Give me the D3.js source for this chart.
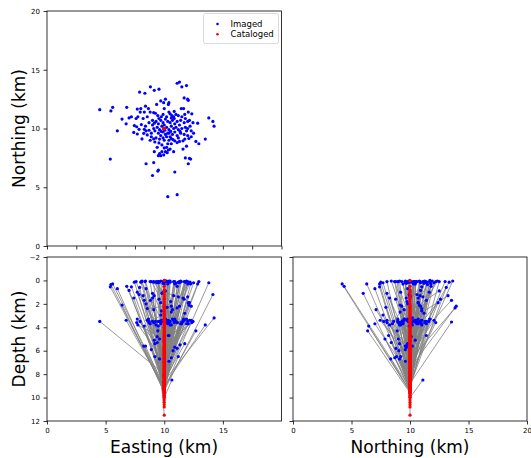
<!DOCTYPE html>
<html>
<head>
<meta charset="utf-8">
<script src="https://cdn.jsdelivr.net/npm/d3@7"></script>
<style>
  body { margin: 0; background: #fff; }
  svg { font-family: "DejaVu Sans", sans-serif; }
</style>
</head>
<body>
<div id="chart"></div>
<script>
// imaged locations (km)
var easting = [
  11.3, 11.1, 11.9, 11.5, 8.82, 7.9, 8.35, 9.15, 9.55, 11.7,
  12.0, 12.05, 10.1, 10.4, 9.95, 10.35, 9.35, 9.7, 4.5, 5.45,
  5.6, 6.8, 8.0, 8.4, 8.65, 7.7, 9.1, 7.95, 8.3, 8.8,
  10.0, 10.85, 11.65, 11.45, 12.05, 12.35, 11.75, 6.4, 7.0, 7.2,
  6.75, 7.6, 7.75, 8.2, 8.55, 9.25, 9.45, 9.75, 10.5, 10.8,
  11.2, 11.5, 11.8, 12.15, 13.8, 14.15, 14.25, 12.85, 12.45, 6.0,
  7.45, 7.65, 7.85, 7.4, 7.7, 8.05, 8.3, 8.45, 8.7, 8.1,
  8.25, 8.55, 8.8, 9.1, 9.2, 9.55, 13.5, 12.95, 12.7, 12.1,
  11.75, 11.6, 11.6, 11.9, 11.3, 11.1, 10.9, 10.6, 10.4, 10.2,
  10.35, 10.1, 9.8, 9.6, 9.95, 10.25, 10.5, 10.8, 9.15, 9.5,
  9.7, 5.4, 8.45, 9.1, 11.8, 12.15, 12.25, 12.05, 9.5, 9.45,
  10.9, 9.0, 10.3, 11.1,
  9.3, 9.5, 9.7, 9.9, 10.1, 10.3, 10.5, 10.7, 10.9, 11.1,
  11.3, 9.4, 9.6, 9.8, 10.0, 10.2, 10.4, 10.6, 10.8, 11.0,
  11.2, 11.5, 11.8, 12.0, 12.3, 12.5, 9.2, 9.5, 9.7, 9.9,
  10.1, 10.3, 10.5, 10.7, 10.9, 11.1, 11.4, 11.7, 12.0, 12.3,
  9.0, 8.9, 9.1, 9.3, 9.6, 9.9, 10.2, 10.4, 10.0, 10.6,
  10.3, 9.8, 9.4, 10.0, 10.6, 10.2, 9.9, 10.4, 11.0, 11.4,
  11.7, 12.0, 9.0, 8.7, 8.4, 8.9, 11.9, 12.2, 10.75, 11.2,
  9.55, 10.05, 10.65, 9.75, 10.55, 11.35, 10.85, 9.15
];
var northing = [
  13.95, 13.85, 13.65, 13.55, 13.55, 13.1, 13.0, 13.25, 13.35, 12.6,
  12.5, 12.4, 12.5, 12.2, 12.2, 12.05, 12.05, 12.35, 11.6, 11.5,
  11.8, 11.8, 11.7, 11.9, 11.7, 11.65, 11.35, 11.4, 11.4, 11.4,
  11.7, 11.45, 11.7, 11.7, 11.4, 11.25, 11.2, 10.8, 10.9, 11.0,
  10.4, 10.85, 11.0, 10.85, 11.0, 11.3, 11.1, 11.0, 11.25, 11.0,
  11.1, 11.0, 10.85, 10.7, 10.9, 10.6, 10.2, 10.45, 10.5, 9.8,
  10.25, 10.15, 9.93, 9.67, 9.53, 10.33, 9.93, 9.8, 9.85, 9.11,
  9.59, 9.45, 9.0, 9.11, 8.85, 8.77, 9.1, 8.7, 8.9, 9.15,
  9.1, 8.95, 8.25, 8.5, 8.9, 8.8, 8.95, 9.15, 9.0, 8.4,
  8.17, 8.03, 8.03, 7.86, 7.75, 7.94, 8.25, 8.03, 8.03, 7.69,
  7.69, 7.4, 7.0, 7.1, 7.5, 7.45, 7.4, 7.0, 6.47, 6.38,
  6.3, 6.0, 4.2, 4.37,
  10.6, 10.4, 10.7, 10.5, 10.8, 10.6, 10.5, 10.7, 10.4, 10.6,
  10.3, 10.1, 9.9, 10.2, 10.3, 10.1, 9.9, 10.2, 10.0, 10.1,
  9.9, 10.0, 10.1, 10.0, 9.8, 9.6, 9.8, 9.6, 9.4, 9.7,
  9.5, 9.6, 9.3, 9.5, 9.7, 9.4, 9.6, 9.5, 9.4, 9.3,
  10.3, 9.6, 10.0, 9.2, 9.1, 9.2, 9.3, 9.6, 9.0, 8.7,
  8.7, 8.6, 8.4, 8.35, 10.9, 11.0, 11.2, 11.4, 11.2, 10.7,
  10.5, 10.6, 10.7, 10.5, 10.2, 9.3, 9.8, 10.2, 9.05, 9.2,
  10.85, 9.85, 11.1, 9.75, 9.75, 9.75, 10.85, 10.45
];
var depth = [
  2.2, 2.35, 0.05, 3.55, 1.7, 0.6, 0.1, 1.3, 0.15, 1.6,
  0.1, 1.9, 0.9, 3.6, 0.1, 3.4, 0.2, 0.05, 3.5, 0.35,
  0.3, 0.5, 0.15, 0.05, 3.3, 1.0, 0.1, 3.5, 1.7, 3.7,
  0.0, 0.15, 3.3, 0.1, 0.2, 3.6, 2.8, 2.1, 0.85, 0.55,
  3.4, 0.1, 3.8, 1.3, 2.4, 3.5, 0.1, 2.6, 0.05, 3.4,
  1.4, 3.7, 0.1, 1.9, 0.2, 1.2, 3.2, 0.3, 3.5, 0.7,
  0.15, 3.6, 1.2, 1.5, 3.3, 0.1, 3.9, 2.0, 3.5, 0.05,
  5.6, 3.4, 0.1, 3.6, 6.5, 1.6, 3.8, 0.1, 4.3, 2.1,
  5.4, 3.5, 1.5, 3.7, 0.1, 5.8, 3.3, 2.7, 3.6, 0.05,
  4.7, 3.4, 1.1, 5.0, 3.5, 2.3, 3.8, 0.1, 3.6, 0.2,
  2.95, 0.55, 0.7, 2.5, 0.15, 3.4, 0.3, 3.7, 3.9, 4.3,
  0.3, 1.1, 0.3, 0.5,
  0.1, 3.5, 1.9, 3.4, 0.05, 3.7, 0.15, 3.3, 0.1, 3.6,
  0.2, 4.8, 0.1, 3.5, 0.3, 3.4, 0.05, 3.8, 1.3, 3.5,
  0.15, 3.6, 0.1, 1.4, 3.4, 0.2, 5.4, 0.1, 3.7, 0.25,
  3.3, 0.1, 3.5, 2.5, 5.7, 3.6, 0.05, 3.4, 0.3, 2.2,
  3.5, 5.9, 0.15, 3.8, 6.7, 1.0, 3.6, 6.9, 5.0, 6.6,
  0.1, 3.5, 5.3, 6.7, 2.2, 3.4, 0.1, 4.7, 0.25, 3.7,
  0.1, 3.5, 1.5, 3.6, 5.6, 0.1, 3.3, 0.15, 6.0, 6.5,
  3.5, 0.1, 8.5, 3.4, 1.8, 5.5, 3.6, 5.1
];
// cataloged depths (km), cataloged epicentre is the same for all events
var catDepth = [
  7.5, 6.8, 8.2, 8.8, 5.5, 9.0, 7.2, 3.4, 6.1, 4.8,
  9.2, 7.8, 2.6, 8.1, 5.2, 6.5, 8.6, 4.0, 8.0, 9.4,
  9.0, 8.4, 7.0, 5.8, 9.1, 8.3, 1.5, 7.6, 6.2, 4.4,
  3.0, 7.4, 5.9, 8.9, 6.6, 7.7, 9.3, 9.5, 8.7, 7.9,
  9.2, 6.9, 5.0, 8.5, 2.2, 6.0, 7.3, 9.0, 4.6, 8.0,
  1.0, 6.7, 8.4, 7.1, 8.8, 9.4, 8.6, 7.5, 5.6, 9.6,
  8.1, 7.0, 4.9, 9.1, 6.3, 3.8, 8.7, 5.3, 2.9, 7.8,
  9.3, 6.4, 8.2, 4.1, 8.9, 5.7, 9.0, 8.0, 9.2, 6.8,
  8.5, 3.6, 7.2, 5.1, 9.1, 8.3, 6.1, 2.4, 7.6, 4.7,
  8.8, 6.9, 5.4, 9.0, 3.3, 7.7, 6.2, 8.6, 5.8, 7.9,
  8.4, 9.2, 8.9, 7.3, 8.1, 6.6, 9.0, 8.2, 9.4, 9.6,
  8.7, 9.3, 9.5, 9.2,
  1.2, 4.3, 6.4, 0.5, 5.0, 7.0, 10.0, 2.0, 3.9, 5.5,
  7.4, 8.0, 0.8, 3.1, 10.4, 4.5, 6.0, 1.8, 2.7, 6.3,
  7.1, 3.5, 5.2, 8.5, 6.7, 7.6, 10.6, 2.3, 4.8, 0.0,
  5.9, 10.8, 1.4, 4.2, 9.0, 2.8, 6.5, 7.3, 3.7, 8.3,
  5.3, 9.2, 11.5, 6.8, 9.6, 3.2, 5.7, 9.8, 8.7, 9.4,
  4.4, 1.6, 9.1, 9.5, 7.9, 2.5, 6.6, 8.9, 5.1, 0.9,
  7.7, 4.0, 8.2, 6.2, 9.3, 2.1, 8.0, 5.6, 9.7, 9.4,
  3.4, 10.2, 10.0, 7.0, 4.9, 8.6, 6.0, 9.9
];
var catEasting = 10, catNorthing = 10;

var mapTicks = [0, 5, 10, 15, 20];
var mapMinorTicks = [0, 2.5, 5, 7.5, 10, 12.5, 15, 17.5, 20];
var depthTicks = [-2, 0, 2, 4, 6, 8, 10, 12];
var leftXTicks = [0, 5, 10, 15];
var legendLabels = ['Imaged', 'Cataloged'];
var legendColors = ['blue', 'red'];

var svg = d3.select('#chart')
    .append('svg')
    .attr('width', 531)
    .attr('height', 458);

// scales
var xE = d3.scaleLinear().domain([0, 20]).range([47, 281.5]);
var yN = d3.scaleLinear().domain([0, 20]).range([246, 11]);
var xN = d3.scaleLinear().domain([0, 20]).range([293, 527]);
var yD = d3.scaleLinear().domain([-2, 12]).range([257, 421]);

var events = easting.map(function(e, i) {
    return { e: e, n: northing[i], d: depth[i], cd: catDepth[i] };
});

function styleAxis(g) {
    g.select('.domain').remove();
    g.selectAll('line').attr('stroke', '#000').attr('stroke-width', 0.8);
    g.attr('font-size', 7).attr('font-family', '"DejaVu Sans", sans-serif');
    g.selectAll('text').attr('fill', '#000');
}

function frame(x, y) {
    svg.append('rect')
        .attr('x', x.range()[0])
        .attr('y', Math.min(y.range()[0], y.range()[1]))
        .attr('width', x.range()[1] - x.range()[0])
        .attr('height', Math.abs(y.range()[0] - y.range()[1]))
        .attr('fill', 'none')
        .attr('stroke', '#000')
        .attr('stroke-width', 0.8);
}

//Map view
svg.append('g')
    .attr('transform', 'translate(47,0)')
    .call(d3.axisLeft(yN).tickValues(mapTicks).tickSize(3.5).tickPadding(3.5).tickSizeOuter(0))
    .call(styleAxis);
svg.append('g')
    .attr('transform', 'translate(0,246)')
    .call(d3.axisBottom(xE).tickValues(mapMinorTicks).tickFormat('').tickSize(3.5).tickSizeOuter(0))
    .call(styleAxis);

svg.append('g').selectAll('circle')
    .data(events)
    .enter().append('circle')
    .attr('cx', function(d) { return xE(d.e); })
    .attr('cy', function(d) { return yN(d.n); })
    .attr('r', 1.6)
    .attr('fill', 'blue');
svg.append('g').selectAll('circle')
    .data(events)
    .enter().append('circle')
    .attr('cx', xE(catEasting))
    .attr('cy', yN(catNorthing))
    .attr('r', 1.6)
    .attr('fill', 'red');
frame(xE, yN);

// Legend
var legend = svg.append('g');
legend.append('rect')
    .attr('x', 203.5).attr('y', 13.5)
    .attr('width', 75).attr('height', 30)
    .attr('rx', 2)
    .attr('fill', '#fff')
    .attr('fill-opacity', 0.8)
    .attr('stroke', '#d0d0d0')
    .attr('stroke-width', 0.8);
var item = legend.selectAll('g.item')
    .data(legendLabels)
    .enter().append('g')
    .attr('class', 'item')
    .attr('transform', function(d, i) { return 'translate(0,' + (24 + i * 10.3) + ')'; });
item.append('circle')
    .attr('cx', 217.5).attr('cy', 0).attr('r', 1.3)
    .attr('fill', function(d, i) { return legendColors[i]; });
item.append('text')
    .attr('x', 230.5).attr('dy', '0.35em')
    .attr('font-size', 8.5)
    .text(function(d) { return d; });

// Depth sections
function section(xs, key, catValue, showY, xTicks) {
    svg.append('g')
        .attr('transform', 'translate(' + xs.range()[0] + ',0)')
        .call(d3.axisLeft(yD).tickValues(depthTicks).tickSize(3.5).tickPadding(3.5).tickSizeOuter(0)
            .tickFormat(showY ? d3.format('d') : ''))
        .call(styleAxis);
    svg.append('g')
        .attr('transform', 'translate(0,421)')
        .call(d3.axisBottom(xs).tickValues(xTicks).tickSize(3.5).tickPadding(3.5).tickSizeOuter(0))
        .call(styleAxis);

    var g = svg.append('g');
    g.selectAll('line')
        .data(events)
        .enter().append('line')
        .attr('x1', function(d) { return xs(d[key]); })
        .attr('y1', function(d) { return yD(d.d); })
        .attr('x2', xs(catValue))
        .attr('y2', function(d) { return yD(d.cd); })
        .attr('stroke', 'gray')
        .attr('stroke-width', 0.8);
    g.selectAll('circle.img')
        .data(events)
        .enter().append('circle')
        .attr('class', 'img')
        .attr('cx', function(d) { return xs(d[key]); })
        .attr('cy', function(d) { return yD(d.d); })
        .attr('r', 1.6)
        .attr('fill', 'blue');
    g.selectAll('circle.cat')
        .data(events)
        .enter().append('circle')
        .attr('class', 'cat')
        .attr('cx', xs(catValue))
        .attr('cy', function(d) { return yD(d.cd); })
        .attr('r', 1.6)
        .attr('fill', 'red');
    frame(xs, yD);
}

section(xE, 'e', catEasting, true, leftXTicks);
section(xN, 'n', catNorthing, false, mapTicks);

// Axis titles
function ylabel(text, y) {
    svg.append('text')
        .attr('transform', 'translate(24.5,' + y + ') rotate(-90)')
        .attr('text-anchor', 'middle')
        .attr('font-size', 17)
        .text(text);
}
function xlabel(text, x) {
    svg.append('text')
        .attr('x', x).attr('y', 452.5)
        .attr('text-anchor', 'middle')
        .attr('font-size', 17)
        .text(text);
}
ylabel('Northing (km)', 128.5);
ylabel('Depth (km)', 339);
xlabel('Easting (km)', 164);
xlabel('Northing (km)', 410);
</script>
</body>
</html>
